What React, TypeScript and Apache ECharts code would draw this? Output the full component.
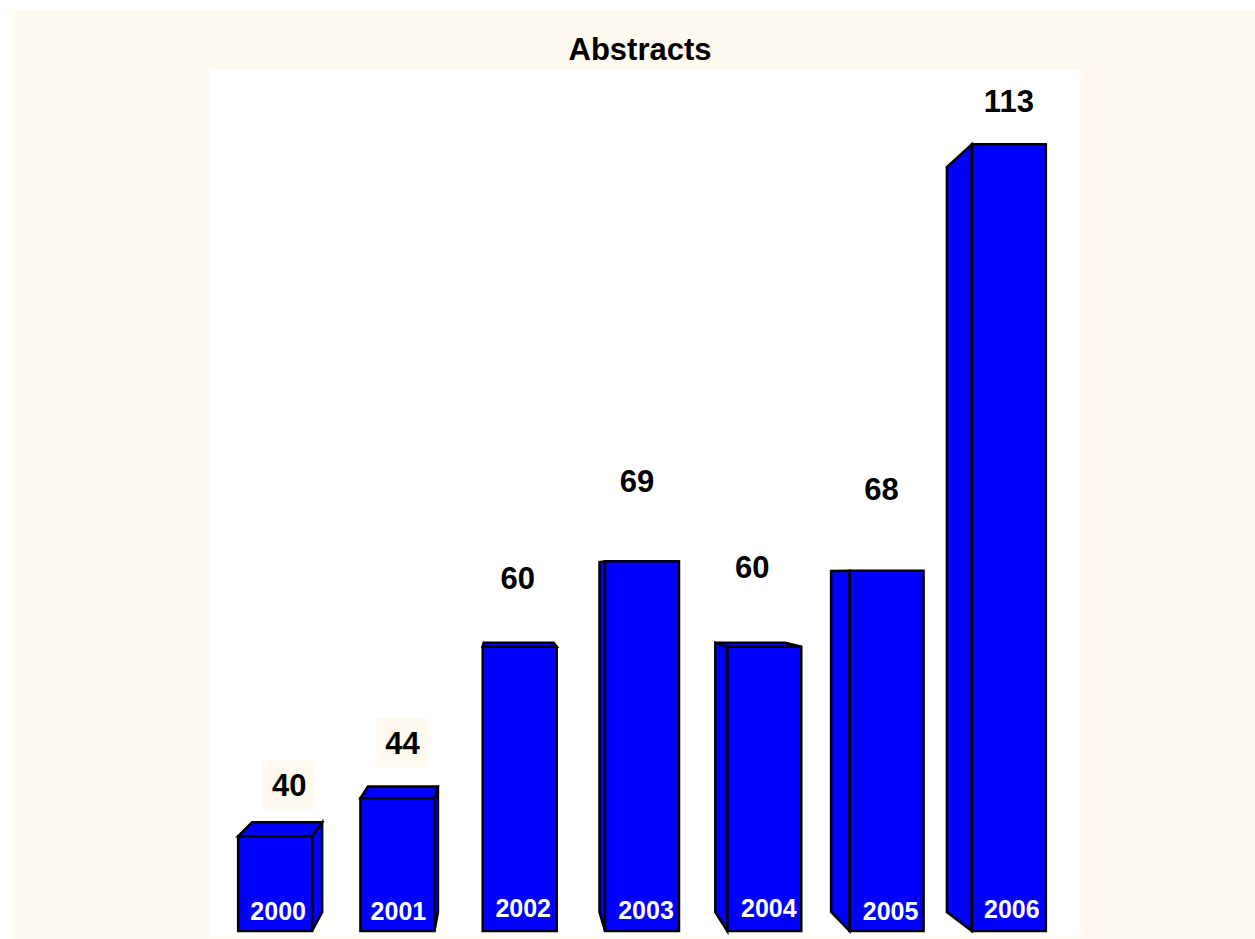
import React, { useEffect, useRef } from "react";
import * as echarts from "echarts";

// ---- data ----
const categories = ["2000", "2001", "2002", "2003", "2004", "2005", "2006"];
const abstractsCount = [40, 44, 60, 69, 60, 68, 113];
const chartTitle = "Abstracts";

// ---- layout / style constants (not data) ----
const valueLabelOffsets = [
  [14, -51],
  [5, -55],
  [-2, -68],
  [-5, -80],
  [-12, -79],
  [-5, -81],
  [0, -43],
];
const valueLabelBoxed = [true, true, false, false, false, false, false];
const yearLabelOffsets = [
  [3, -20],
  [1, -20],
  [3.5, -23],
  [4, -21.5],
  [4.5, -23.5],
  [4, -20.5],
  [3, -22],
];
const CREAM = "#FFFAEF";
const BLUE = "#0000FF";
const VANISH = [501, 574];
const DEPTH = 0.053;
const FONT = "'Liberation Sans', Arial, Helvetica, sans-serif";

function back(p: number[]) {
  return [p[0] + DEPTH * (VANISH[0] - p[0]), p[1] + DEPTH * (VANISH[1] - p[1])];
}

export default function App() {
  const ref = useRef<HTMLDivElement>(null);
  useEffect(() => {
    document.body.style.margin = "0";
    if (!ref.current) return;
    const chart = echarts.init(ref.current, undefined, { renderer: "svg" });
    const data = abstractsCount.map((v, i) => [i, v]);
    const option: any = {
      animation: false,
      backgroundColor: "#FFFFFF",
      graphic: [
        {
          type: "rect",
          z: -10,
          silent: true,
          shape: { x: 12, y: 10, width: 1255 - 12, height: 939 - 10 },
          style: { fill: CREAM },
        },
        {
          type: "rect",
          z: -9,
          silent: true,
          shape: { x: 210, y: 70, width: 870, height: 867 },
          style: { fill: "#FFFFFF" },
        },
        {
          type: "text",
          z: 10,
          x: 640,
          y: 49,
          style: {
            text: chartTitle,
            fill: "#000000",
            font: `bold 31px ${FONT}`,
            align: "center",
            verticalAlign: "middle",
          },
        },
      ],
      grid: { left: 214, right: 185, top: 78, bottom: 8, containLabel: false },
      xAxis: {
        type: "category",
        data: categories,
        boundaryGap: true,
        axisLine: { show: false },
        axisTick: { show: false },
        axisLabel: { show: false },
        splitLine: { show: false },
      },
      yAxis: {
        type: "value",
        min: 30,
        max: 120,
        interval: 10,
        axisLine: { show: false },
        axisTick: { show: false },
        axisLabel: { show: false },
        splitLine: { show: false },
      },
      series: [
        {
          type: "custom",
          data,
          renderItem: (params: any, api: any) => {
            const i = api.value(0);
            const v = api.value(1);
            const top = api.coord([i, v]);
            const base = api.coord([i, 30]);
            const band = api.size([1, 0])[0];
            const w = band * 0.605;
            const x0 = top[0] - w / 2;
            const x1 = top[0] + w / 2;
            const yt = top[1];
            const yb = base[1];
            const TL = [x0, yt];
            const TR = [x1, yt];
            const BR = [x1, yb];
            const BL = [x0, yb];
            const bTL = back(TL);
            const bTR = back(TR);
            const bBR = back(BR);
            const bBL = back(BL);
            const faceStyle = {
              fill: BLUE,
              stroke: "#000000",
              lineWidth: 2.5,
              lineJoin: "miter",
            };
            const children: any[] = [];
            if (VANISH[0] < x0) {
              children.push({
                type: "polygon",
                shape: { points: [TL, bTL, bBL, BL] },
                style: faceStyle,
              });
            }
            if (VANISH[0] > x1) {
              children.push({
                type: "polygon",
                shape: { points: [TR, bTR, bBR, BR] },
                style: faceStyle,
              });
            }
            if (VANISH[1] < yt) {
              children.push({
                type: "polygon",
                shape: { points: [TL, TR, bTR, bTL] },
                style: faceStyle,
              });
            }
            children.push({
              type: "rect",
              shape: { x: x0, y: yt, width: w, height: yb - yt },
              style: faceStyle,
            });
            const yo = yearLabelOffsets[i];
            children.push({
              type: "text",
              x: top[0] + yo[0],
              y: yb + yo[1],
              style: {
                text: categories[i],
                fill: "#FFFFFF",
                font: `bold 25px ${FONT}`,
                align: "center",
                verticalAlign: "middle",
              },
            });
            const lo = valueLabelOffsets[i];
            const lx = top[0] + lo[0];
            const ly = yt + lo[1];
            if (valueLabelBoxed[i]) {
              children.push({
                type: "rect",
                shape: { x: lx - 26, y: ly - 25, width: 52, height: 49 },
                style: { fill: CREAM },
              });
            }
            children.push({
              type: "text",
              x: lx,
              y: ly,
              style: {
                text: String(v),
                fill: "#000000",
                font: `bold 31px ${FONT}`,
                align: "center",
                verticalAlign: "middle",
              },
            });
            return { type: "group", children };
          },
        },
      ],
    };
    chart.setOption(option);
    return () => chart.dispose();
  }, []);
  return <div ref={ref} style={{ width: 1255, height: 939 }} />;
}
